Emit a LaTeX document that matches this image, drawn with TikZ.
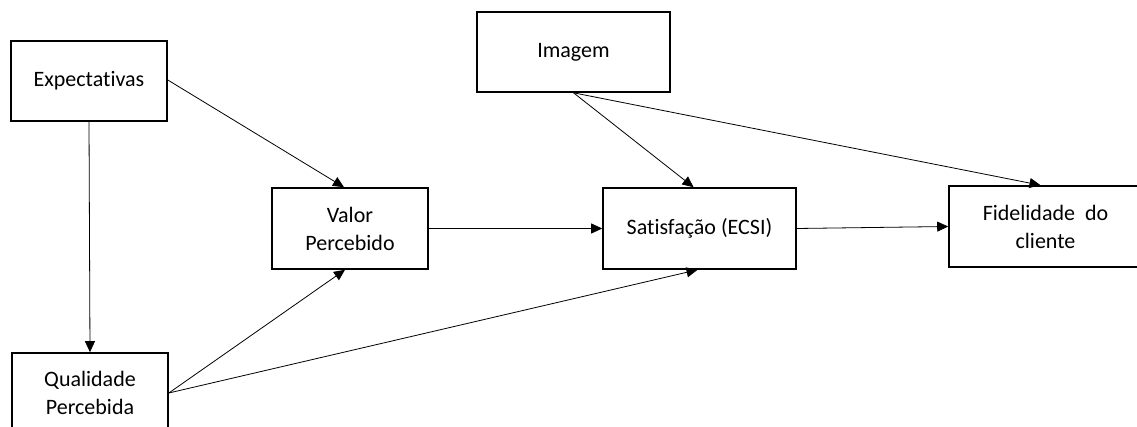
\documentclass[tikz,border=0pt]{standalone}
\usepackage{fontspec}
\setmainfont{Carlito}[Ligatures=NoCommon]
\usetikzlibrary{arrows.meta}
\begin{document}
\begin{tikzpicture}[x=1pt,y=-1pt,
  box/.style={draw,line width=1.6pt,inner sep=0pt,align=center,
    font=\fontsize{22}{28}\selectfont},
  link/.style={line width=0.8pt,-{Triangle[length=11pt,width=10pt]}}]
\useasboundingbox (0,0) rectangle (1137,427);
\clip (0,0) rectangle (1137,427);
\fill[white] (0,0) rectangle (1137,427);

\node[box,minimum width=156pt,minimum height=80pt] (exp) at (89,81) {Expectativas};
\node[box,minimum width=156pt,minimum height=80pt] (qual) at (90,393) {Qualidade\\Percebida};
\node[box,minimum width=156pt,minimum height=81pt] (valor) at (350,228.5) {Valor\\Percebido};
\node[box,minimum width=193pt,minimum height=80pt] (img) at (573.5,52) {Imagem};
\node[box,minimum width=193pt,minimum height=81pt] (sat) at (699.5,228.5) {Satisfação (ECSI)};
\node[box,minimum width=193pt,minimum height=81pt] (fid) at (1045.5,226.5) {Fidelidade\ \ do\\cliente};

\draw[link] (exp.south) -- (qual.north);
\draw[link] ([yshift=1pt]exp.east) -- ([xshift=-6pt]valor.north);
\draw[link] (qual.east) -- ([xshift=-5pt]valor.south);
\draw[link] (qual.east) -- ([xshift=-2pt]sat.south);
\draw[link] (valor.east) -- (sat.west);
\draw[link] (img.south) -- ([xshift=-6pt]sat.north);
\draw[link] (img.south) -- ([xshift=-5pt]fid.north);
\draw[link] (sat.east) -- (fid.west);
\end{tikzpicture}
\end{document}
